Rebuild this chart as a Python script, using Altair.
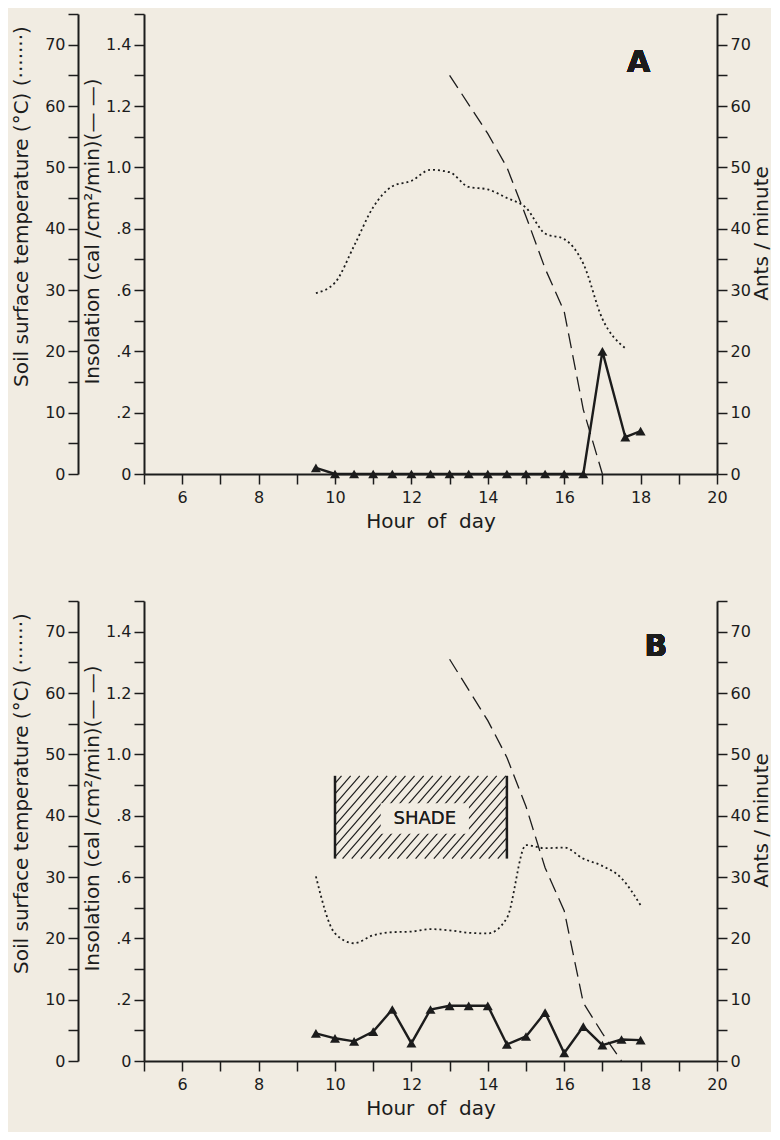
import altair as alt
import pandas as pd
import numpy as np

BG = "#F1ECE2"
INK = "#1c1c1c"
FONT = "DejaVu Sans"

# ---------------- data ----------------
# Panel A
a_ant_hours = [9.5, 10, 10.5, 11, 11.5, 12, 12.5, 13, 13.5, 14, 14.5, 15, 15.5, 16, 16.5, 17, 17.6, 18]
a_ants = [1, 0, 0, 0, 0, 0, 0, 0, 0, 0, 0, 0, 0, 0, 0, 20, 6, 7]
a_temp_hours = [9.5, 10, 10.5, 11, 11.5, 12, 12.5, 13, 13.5, 14, 14.5, 15, 15.5, 16, 16.5, 17, 17.6]
a_temp = [29.5, 31.2, 37.2, 43.5, 46.9, 47.8, 49.6, 49.2, 46.8, 46.4, 45.0, 43.4, 39.2, 38.3, 34.3, 25.3, 20.5]
a_ins_hours = [13, 14, 14.5, 15, 15.5, 16, 16.5, 17]
a_ins = [1.30, 1.11, 1.00, 0.84, 0.67, 0.53, 0.21, 0.0]

# Panel B
b_ant_hours = [9.5, 10, 10.5, 11, 11.5, 12, 12.5, 13, 13.5, 14, 14.5, 15, 15.5, 16, 16.5, 17, 17.5, 18]
b_ants = [4.5, 3.7, 3.2, 4.8, 8.4, 2.9, 8.4, 9.0, 9.0, 9.0, 2.7, 4.0, 7.9, 1.3, 5.6, 2.6, 3.5, 3.4]
b_temp_hours = [9.5, 10, 10.5, 11, 11.5, 12, 12.5, 13, 13.5, 14, 14.5, 15, 15.5, 16, 16.5, 17, 17.5, 18]
b_temp = [30.1, 20.8, 19.2, 20.5, 21.0, 21.1, 21.5, 21.3, 20.9, 20.8, 23.3, 35.2, 34.7, 34.8, 33.0, 31.8, 29.8, 25.4]
b_ins_hours = [13, 14, 14.5, 15, 15.5, 16, 16.5, 17, 17.5]
b_ins = [1.31, 1.11, 0.99, 0.83, 0.63, 0.49, 0.19, 0.09, 0.0]

# shade period in panel B (hours)
shade_start, shade_end = 10.0, 14.5

x_ticks = list(range(5, 21))
temp_ticks = list(range(0, 80, 5))
ins_ticks = [round(i * 0.1, 1) for i in range(16)]
ants_ticks = list(range(0, 80, 5))

W, H = 573, 460
X_DOM = [5, 20]
T_DOM = [0, 75]
I_DOM = [0, 1.5]


def xs():
    return alt.Scale(domain=X_DOM, nice=False, zero=False)


def ts():
    return alt.Scale(domain=T_DOM, nice=False, zero=False)


x_axis = alt.Axis(
    values=x_ticks,
    labelExpr="datum.value % 2 == 0 ? datum.label : ''",
    labelFontSize={"condition": {"test": "datum.value % 2 != 0", "value": 0}, "value": 16},
    title="Hour\u00a0\u00a0of\u00a0\u00a0day",
    labelPadding=5,
    titlePadding=6,
)

temp_axis = alt.Axis(
    orient="left",
    offset=66,
    values=temp_ticks,
    labelExpr="datum.value % 10 == 0 && datum.value < 75 ? datum.label : ''",
    labelFontSize={"condition": {"test": "datum.value >= 74", "value": 0}, "value": 16},
    title="Soil surface temperature (°C) (·······)",
    titlePadding=13,
    titleY=192,
)

ins_axis = alt.Axis(
    orient="left",
    values=ins_ticks,
    labelExpr="datum.value == 0 ? '0' : ((round(datum.value * 10) % 2 != 0 || datum.value > 1.45) ? '' : (datum.value < 1 ? replace(format(datum.value, '.1f'), '0.', '.') : format(datum.value, '.1f')))",
    labelFontSize={"condition": {"test": "datum.value > 1.45", "value": 0}, "value": 16},
    title="Insolation (cal /cm²/min)(— —)",
    titlePadding=3,
    titleY=217,
)

ants_axis = alt.Axis(
    orient="right",
    values=ants_ticks,
    labelExpr="datum.value % 10 == 0 && datum.value < 75 ? datum.label : ''",
    labelFontSize={"condition": {"test": "datum.value >= 74", "value": 0}, "value": 16},
    title="Ants / minute",
    titleAngle=270,
    titleX=54,
    titleY=219,
    titleBaseline="bottom",
)


def panel(temp_h, temp_v, ins_h, ins_v, ant_h, ant_v, letter, letter_x, letter_y, shade=False):
    tdf = pd.DataFrame({"hour": temp_h, "temp": temp_v})
    idf = pd.DataFrame({"hour": ins_h, "ins": ins_v})
    adf = pd.DataFrame({"hour": ant_h, "ants": ant_v})

    layers = []

    temp_line = alt.Chart(tdf).mark_line(
        strokeDash=[2, 3], strokeWidth=1.8, color=INK, interpolate="monotone"
    ).encode(
        x=alt.X("hour:Q", scale=xs(), axis=x_axis),
        y=alt.Y("temp:Q", scale=ts(), axis=temp_axis),
    )
    layers.append(temp_line)

    ins_line = alt.Chart(idf).mark_line(
        strokeDash=[15, 7], strokeWidth=1.3, color=INK
    ).encode(
        x=alt.X("hour:Q", scale=xs(), axis=x_axis),
        y=alt.Y("ins:Q", scale=alt.Scale(domain=I_DOM, nice=False, zero=False), axis=ins_axis),
    )
    layers.append(ins_line)

    ants_line = alt.Chart(adf).mark_line(color=INK, strokeWidth=2.4).encode(
        x=alt.X("hour:Q", scale=xs(), axis=x_axis),
        y=alt.Y("ants:Q", scale=ts(), axis=ants_axis),
    )
    layers.append(ants_line)

    ants_pts = alt.Chart(adf).mark_point(
        shape="triangle-up", filled=True, size=100, color=INK, opacity=1
    ).encode(
        x=alt.X("hour:Q", scale=xs(), axis=x_axis),
        y=alt.Y("ants:Q", scale=ts(), axis=None),
    )
    layers.append(ants_pts)

    letter_text = alt.Chart(tdf).mark_text(
        text=letter, fontSize=30, fontWeight="bold", font=FONT, color=INK
    ).encode(
        x=alt.XDatum(letter_x, scale=xs(), axis=x_axis),
        y=alt.YDatum(letter_y, scale=ts(), axis=None),
    )
    layers.append(letter_text)

    if shade:
        lo, hi = 33.0, 46.5
        sdf = pd.DataFrame({"hour": [shade_start, shade_end], "lo": [lo, lo], "hi": [hi, hi]})
        # hatch lines clipped to the shade box
        pxh = W / (X_DOM[1] - X_DOM[0])
        pxd = H / (T_DOM[1] - T_DOM[0])
        wpx = (shade_end - shade_start) * pxh
        hpx = (hi - lo) * pxd
        slope = 1.15
        step = 10.5
        rows = []
        c = -slope * wpx
        while c < hpx:
            u0 = max(0.0, (0 - c) / slope)
            u1 = min(wpx, (hpx - c) / slope)
            if u1 > u0:
                rows.append({
                    "h1": shade_start + u0 / pxh,
                    "h2": shade_start + u1 / pxh,
                    "t1": lo + (slope * u0 + c) / pxd,
                    "t2": lo + (slope * u1 + c) / pxd,
                })
            c += step
        hdf = pd.DataFrame(rows)
        hatch = alt.Chart(hdf).mark_rule(color=INK, strokeWidth=1.2).encode(
            x=alt.X("h1:Q", scale=xs(), axis=x_axis), x2="h2:Q",
            y=alt.Y("t1:Q", scale=ts(), axis=None), y2="t2:Q",
        )
        sides = alt.Chart(sdf).mark_rule(color=INK, strokeWidth=2.5).encode(
            x=alt.X("hour:Q", scale=xs(), axis=x_axis),
            y=alt.Y("lo:Q", scale=ts(), axis=None),
            y2="hi:Q",
        )
        mask = alt.Chart(sdf).mark_rect(color=BG).encode(
            x=alt.XDatum(11.2, scale=xs(), axis=x_axis), x2=alt.datum(13.5),
            y=alt.YDatum(37.1, scale=ts(), axis=None), y2=alt.datum(42.0),
        )
        shade_text = alt.Chart(sdf).mark_text(
            text="SHADE", fontSize=18, font=FONT, color=INK
        ).encode(
            x=alt.XDatum(12.35, scale=xs(), axis=x_axis),
            y=alt.YDatum(39.5, scale=ts(), axis=None),
        )
        layers += [hatch, sides, mask, shade_text]

    return alt.layer(*layers).resolve_scale(y="independent").properties(width=W, height=H)


top = panel(a_temp_hours, a_temp, a_ins_hours, a_ins, a_ant_hours, a_ants, "A", 17.95, 67.0)
bottom = panel(b_temp_hours, b_temp, b_ins_hours, b_ins, b_ant_hours, b_ants, "B", 18.4, 67.5, shade=True)

chart = alt.vconcat(top, bottom, spacing=69).configure(
    background=BG,
    padding={"left": 3, "top": 5, "right": 0, "bottom": 14},
).configure_view(stroke=None).configure_axis(
    grid=False,
    domainColor=INK,
    tickColor=INK,
    labelColor=INK,
    titleColor=INK,
    labelFont=FONT,
    titleFont=FONT,
    titleFontSize=20,
    titleFontWeight="normal",
    tickSize=10,
    tickWidth=1.5,
    domainWidth=2,
    labelFlush=False,
    labelOverlap=False,
    labelPadding=3,
)

chart.save("out.html", embed_options={"renderer": "svg", "actions": False})
